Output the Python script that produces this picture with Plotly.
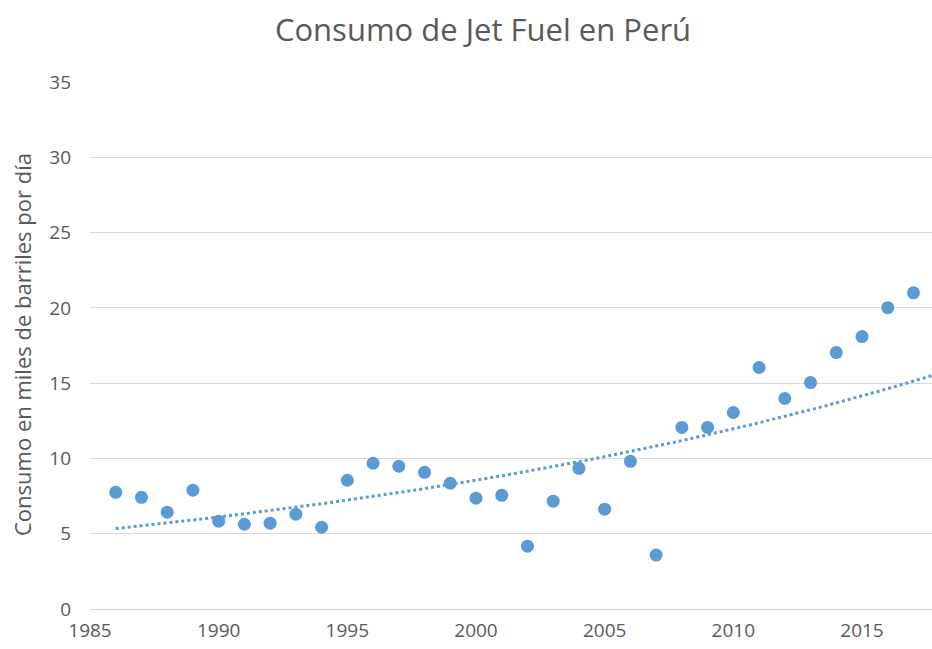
import numpy as np
import plotly.graph_objects as go

years = [1986, 1987, 1988, 1989, 1990, 1991, 1992, 1993, 1994, 1995,
         1996, 1997, 1998, 1999, 2000, 2001, 2002, 2003, 2004, 2005,
         2006, 2007, 2008, 2009, 2010, 2011, 2012, 2013, 2014, 2015,
         2016, 2017]
consumo = [7.75, 7.42, 6.43, 7.89, 5.83, 5.63, 5.70, 6.30, 5.43, 8.55,
           9.68, 9.48, 9.08, 8.35, 7.36, 7.55, 4.17, 7.16, 9.34, 6.63,
           9.81, 3.58, 12.06, 12.06, 13.05, 16.04, 13.98, 15.04, 17.03, 18.09,
           20.01, 21.0]

title = "Consumo de Jet Fuel en Perú"
y_title = "Consumo en miles de barriles por día"
x_ticks = [1985, 1990, 1995, 2000, 2005, 2010, 2015]
y_ticks = [0, 5, 10, 15, 20, 25, 30, 35]

# Exponential trendline (least squares on log values)
xa = np.array(years, dtype=float)
ya = np.array(consumo, dtype=float)
b, a = np.polyfit(xa, np.log(ya), 1)
tx = np.linspace(years[0], 2017.75, 200)
ty = np.exp(a + b * tx)

color = "#5B9BD5"
txt = "#595959"
font = "Open Sans"

W, H = 932, 649
L, R, T, B = 90, 0, 82, 40

fig = go.Figure()
fig.add_trace(go.Scatter(x=tx, y=ty, mode="lines",
                         line=dict(color=color, width=3, dash="dot"),
                         hoverinfo="skip", showlegend=False))
fig.add_trace(go.Scatter(x=years, y=consumo, mode="markers",
                         marker=dict(color=color, size=13),
                         showlegend=False))

fig.update_layout(
    width=W, height=H,
    paper_bgcolor="white", plot_bgcolor="white",
    margin=dict(l=L, r=R, t=T, b=B, autoexpand=False),
    title=dict(text=title, x=483 / W, xanchor="center", y=1 - 30 / H, yanchor="middle",
               font=dict(family=font, size=31, color=txt)),
    font=dict(family=font, color=txt),
    annotations=[dict(text=y_title, textangle=-90, xref="paper", yref="paper",
                      x=(22 - L) / (W - L - R), y=(H - B - 345) / (H - T - B),
                      xanchor="center", yanchor="middle", showarrow=False,
                      font=dict(family=font, size=22, color=txt))],
)
fig.update_xaxes(range=[1985, 2017.72], tickvals=x_ticks, showgrid=False,
                 zeroline=False, showline=False, automargin=False,
                 tickfont=dict(size=19, color=txt), ticklabelstandoff=8)
fig.update_yaxes(range=[0, 35], tickvals=y_ticks, showgrid=True,
                 gridcolor="#D9D9D9", gridwidth=1, zeroline=True,
                 zerolinecolor="#D0D0D0", zerolinewidth=1, showline=False,
                 automargin=False,
                 tickfont=dict(size=19, color=txt), ticklabelstandoff=18)

fig.write_html("out.html", config={"displayModeBar": False},
               post_script="document.body.style.margin='0';document.body.style.overflow='hidden';")
